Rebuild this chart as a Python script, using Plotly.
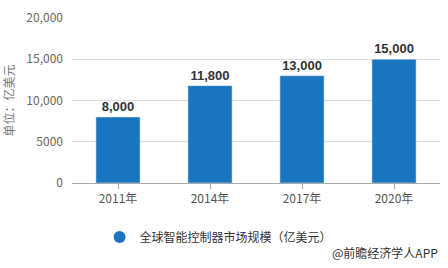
import plotly.graph_objects as go

categories = ["2011年", "2014年", "2017年", "2020年"]
values = [8000, 11800, 13000, 15000]
tick_vals = [0, 5000, 10000, 15000, 20000]
tick_text = ["0", "5000", "10,000", "15,000", "20,000"]
series_name = "全球智能控制器市场规模（亿美元）"
y_title = "单位：亿美元"
source = "@前瞻经济学人APP"

color = "#1a75c0"
font = "Noto Sans CJK SC, Microsoft YaHei, sans-serif"

fig = go.Figure()
fig.add_trace(go.Bar(
    x=categories, y=values, marker_color=color, showlegend=False,
    text=[f"{v:,}" for v in values], textposition="outside",
    textfont=dict(size=13, color="#333333", family="Liberation Sans, Arial, sans-serif"),
    texttemplate="<b>%{text}</b>", cliponaxis=False,
))
fig.add_trace(go.Scatter(
    x=[None], y=[None], mode="markers", name=series_name,
    marker=dict(symbol="circle", size=12, color=color),
))
fig.update_layout(
    width=448, height=268,
    margin=dict(l=72, r=8, t=13, b=85),
    paper_bgcolor="white", plot_bgcolor="white",
    font=dict(family=font, size=12, color="#555555"),
    bargap=0.52,
    legend=dict(orientation="h", x=0.075, y=-0.24, xanchor="left", yanchor="top",
                font=dict(size=12, color="#333333")),
    xaxis=dict(showgrid=False, showline=True, linecolor="#aaaaaa", linewidth=1,
               ticks="outside", ticklen=5, tickcolor="#aaaaaa",
               tickfont=dict(size=12, color="#555555")),
    yaxis=dict(range=[0, 20000], tickvals=tick_vals, ticktext=tick_text,
               showgrid=True, gridcolor="#dddddd", zeroline=False,
               tickfont=dict(size=12, color="#666666"), ticklabelstandoff=8,
               title=dict(text=y_title, font=dict(size=12, color="#777777"), standoff=10)),
    annotations=[dict(text=source, xref="paper", yref="paper", x=1.0, y=-0.42,
                      xanchor="right", yanchor="middle", showarrow=False,
                      font=dict(size=12, color="#333333"))],
)
fig.write_html("out.html")
